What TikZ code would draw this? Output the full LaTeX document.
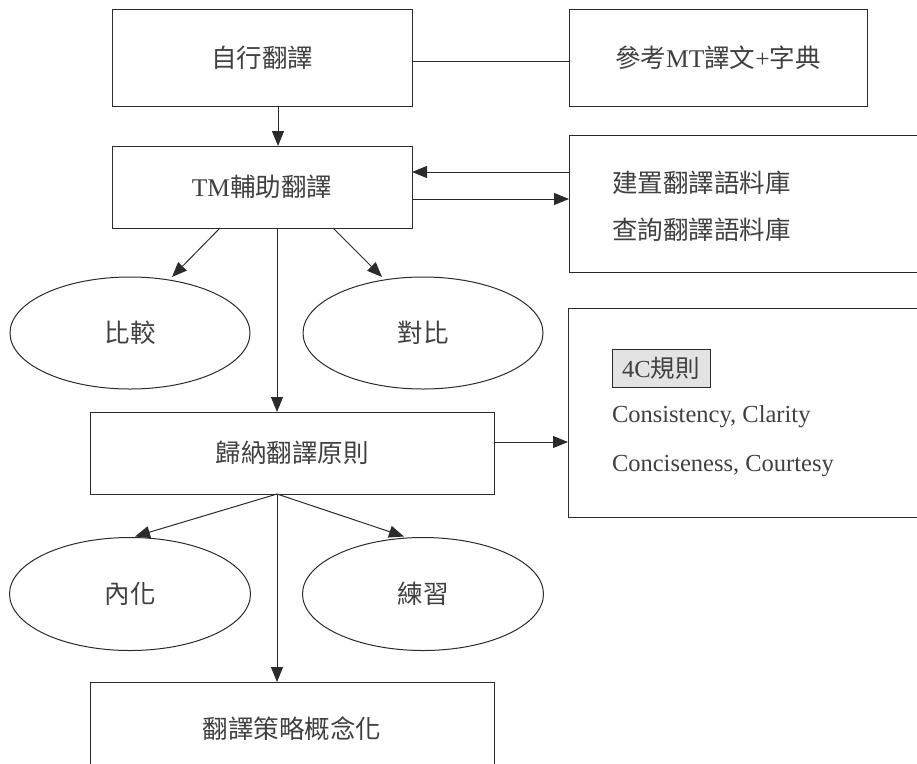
\documentclass[tikz,border=0pt]{standalone}
\usepackage{fontspec}
\setmainfont{Liberation Serif}
\newfontfamily\cjk{Noto Sans CJK TC}
\usetikzlibrary{arrows.meta,shapes.geometric,calc}
\definecolor{ink}{HTML}{2B2B2B}
\definecolor{txt}{HTML}{404040}
\definecolor{tag}{HTML}{E3E3E3}
\tikzset{
  every node/.style={inner sep=0pt, outer sep=0pt, text=txt, font=\fontsize{25.5}{30}\selectfont},
  boxnode/.style={draw=ink, line width=1pt, rectangle},
  ovalnode/.style={draw=ink, line width=1pt, ellipse, minimum width=241pt, minimum height=113pt},
  plain/.style={draw=ink, line width=1pt},
  arr/.style={draw=ink, line width=1pt, -{Triangle[length=15pt,width=12pt]}},
  serifsmall/.style={font=\fontsize{24.5}{28}\selectfont},
}
\begin{document}
\begin{tikzpicture}[x=1pt,y=-1pt]
\useasboundingbox (0,0) rectangle (917,763);
\clip (0,0) rectangle (917,763);

% top row
\node[boxnode, minimum width=300pt, minimum height=97pt] (zx) at (262,57.5) {\cjk 自行翻譯};
\node[boxnode, minimum width=298pt, minimum height=97pt] (ck) at (718,57.5) {{\cjk 參考}MT{\cjk 譯文}+{\cjk 字典}};

% TM row
\node[boxnode, minimum width=300pt, minimum height=82pt] (tm) at (262,187) {TM{\cjk 輔助翻譯}};
\node[boxnode, minimum width=372pt, minimum height=137pt] (cp) at (755,203.5) {};
\node[anchor=west] (c1) at (612,183) {\cjk 建置翻譯語料庫};
\node[anchor=west] (c2) at (612,230) {\cjk 查詢翻譯語料庫};

% first ellipses
\node[ovalnode, minimum width=240pt, minimum height=112pt] (bj) at (130,333) {\cjk 比較};
\node[ovalnode, minimum width=240pt, minimum height=112pt] (db) at (423,333) {\cjk 對比};

% induction box
\node[boxnode, minimum width=404pt, minimum height=82pt] (gn) at (292,453) {\cjk 歸納翻譯原則};
\node[boxnode, minimum width=372pt, minimum height=209pt] (rb) at (754,412.5) {};
\node[draw=ink, line width=0.8pt, fill=tag, minimum width=98pt, minimum height=38pt, serifsmall] (tg) at (661,368) {4C{\cjk 規則}};
\node[anchor=west, serifsmall] (t1) at (612,417) {Consistency, Clarity};
\node[anchor=west, serifsmall] (t2) at (612,466) {Conciseness, Courtesy};

% second ellipses
\node[ovalnode] (nh) at (130,594) {\cjk 內化};
\node[ovalnode] (lx) at (423,594) {\cjk 練習};

% bottom box
\node[boxnode, minimum width=404pt, minimum height=116pt] (ce) at (292,740) {};
\node (cet) at (292,729) {\cjk 翻譯策略概念化};

% connectors
\coordinate (z1) at ($(zx.east)+(0,4)$);
\draw[plain] (z1) -- (z1 -| ck.west);

\coordinate (z2) at ($(zx.south)+(16,0)$);
\draw[arr] (z2) -- (z2 |- tm.north);

\coordinate (a1) at ($(tm.east)+(0,-15)$);
\coordinate (a2) at ($(tm.east)+(0,12)$);
\draw[arr] (a1 -| cp.west) -- (a1);
\draw[arr] (a2) -- (a2 -| cp.west);

\draw[arr] ($(tm.south)+(-42,0)$) -- ($(bj.north)+(42,0)$);
\draw[arr] ($(tm.south)+(71,0)$) -- ($(db.north)+(-41,0)$);

\coordinate (m1) at ($(tm.south)+(15,0)$);
\draw[arr] (m1) -- (m1 |- gn.north);

\coordinate (g1) at ($(gn.east)+(0,-11)$);
\draw[arr] (g1) -- (g1 -| rb.west);

\coordinate (m2) at ($(gn.south)+(-15,0)$);
\draw[arr] (m2) -- ($(nh.north)+(5,-1)$);
\draw[arr] (m2) -- ($(lx.north)+(-19,-1)$);
\draw[arr] (m2) -- (m2 |- ce.north);
\end{tikzpicture}
\end{document}
